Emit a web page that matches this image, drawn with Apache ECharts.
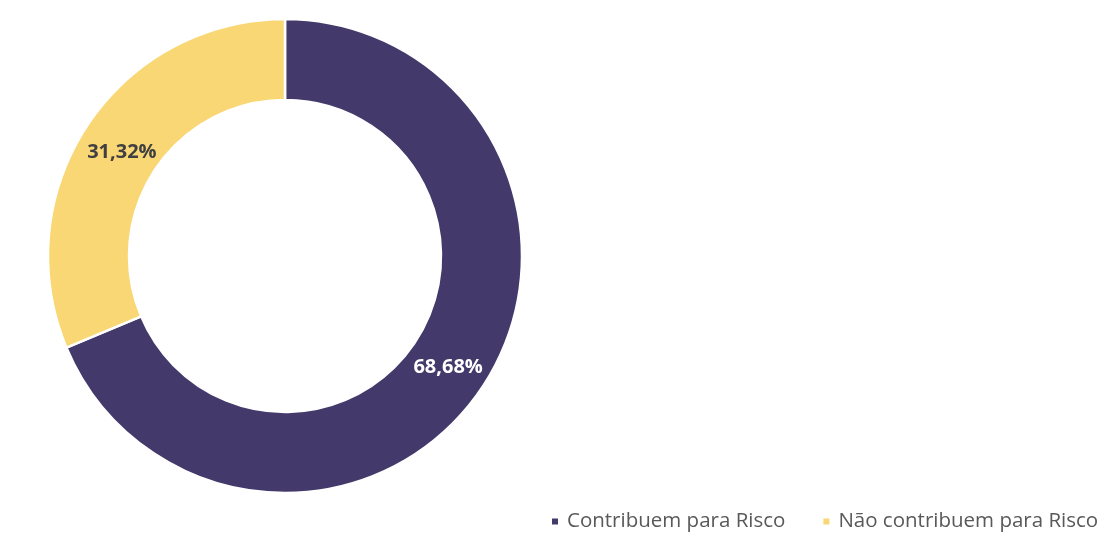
<!DOCTYPE html>
<html>
<head>
<meta charset="utf-8">
<script src="https://cdn.jsdelivr.net/npm/echarts@6/dist/echarts.min.js"></script>
<style>
  html, body { margin: 0; padding: 0; background: #ffffff; }
  #chart { width: 1117px; height: 533px; }
</style>
</head>
<body>
<div id="chart"></div>
<script>
// Share of items by risk contribution (percent)
const categories = ['Contribuem para Risco', 'Não contribuem para Risco'];
const values = [68.68, 31.32];
const colors = ['#433A6B', '#F9D775'];
const labelColors = ['#ffffff', '#404040'];
const labelOffsets = [[-3, 1], [3, 7]];

const chart = echarts.init(document.getElementById('chart'));

const pieData = categories.map((name, i) => ({
  name: name,
  value: values[i],
  itemStyle: { color: colors[i] },
  label: { color: labelColors[i], offset: labelOffsets[i] }
}));

chart.setOption({
  animation: false,
  legend: {
    data: categories,
    left: 545,
    top: 506,
    itemWidth: 8,
    itemHeight: 8,
    itemGap: 36,
    icon: 'rect',
    textStyle: {
      fontFamily: 'Open Sans',
      fontSize: 20.5,
      color: '#595959',
      padding: [0, 0, 0, 3]
    }
  },
  series: [{
    type: 'pie',
    center: [285, 256],
    radius: [156, 237],
    startAngle: 90,
    clockwise: true,
    avoidLabelOverlap: false,
    itemStyle: { borderColor: '#ffffff', borderWidth: 2.5 },
    label: {
      show: true,
      position: 'inside',
      fontFamily: 'Open Sans',
      fontSize: 20,
      fontWeight: 'bold',
      formatter: p => p.value.toFixed(2).replace('.', ',') + '%'
    },
    labelLine: { show: false },
    emphasis: { disabled: true },
    data: pieData
  }]
});
</script>
</body>
</html>
